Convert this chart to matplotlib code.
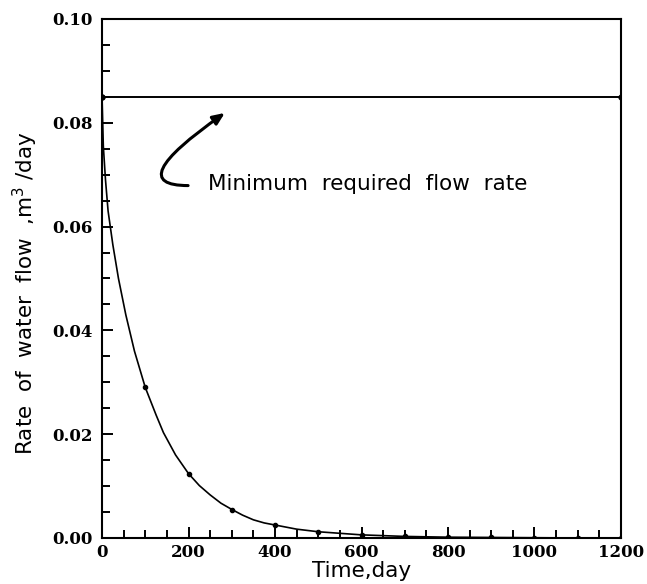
import numpy as np
import matplotlib.pyplot as plt
from matplotlib.ticker import MultipleLocator

# curve (time in days, flow in m3/day)
t_curve = [0, 3, 8, 14, 25, 38, 55, 75, 100, 125, 142, 170, 200, 225, 250, 275,
           300, 325, 350, 375, 400, 450, 500, 600, 700, 800, 900, 1000, 1100, 1200]
q_curve = [0.085, 0.0755, 0.069, 0.063, 0.0565, 0.050, 0.043, 0.036, 0.029, 0.0237,
           0.0203, 0.0160, 0.0124, 0.0101, 0.0083, 0.0067, 0.0055, 0.0044, 0.0035,
           0.0029, 0.0025, 0.0017, 0.0012, 0.0006, 0.0003, 0.00015, 0.0001, 0.00005,
           0.0, 0.0]

# plotted points
t_pts = [0, 100, 200, 300, 400, 500, 600, 700, 800, 900, 1000, 1100, 1200]
q_pts = [0.085, 0.029, 0.0124, 0.0054, 0.0025, 0.0012, 0.0006, 0.0003, 0.00015,
         0.0001, 0.00005, 0.0, 0.0]

# minimum required flow
t_min = [0, 1200]
q_min = [0.085, 0.085]

fig = plt.figure(figsize=(6.47, 5.84), dpi=100)
ax = fig.add_axes([0.1577, 0.0788, 0.8021, 0.8887])

ax.plot(t_curve, q_curve, color='black', lw=1.2)
ax.plot(t_pts, q_pts, 'o', color='black', ms=3)
ax.plot(t_min, q_min, '-o', color='black', lw=1.4, ms=3.5)

ax.set_xlim(0, 1200)
ax.set_ylim(0, 0.10)
ax.xaxis.set_major_locator(MultipleLocator(200))
ax.xaxis.set_minor_locator(MultipleLocator(50))
ax.yaxis.set_major_locator(MultipleLocator(0.02))
ax.yaxis.set_minor_locator(MultipleLocator(0.005))
ax.yaxis.set_major_formatter(plt.FormatStrFormatter('%.2f'))

ax.tick_params(which='both', direction='in', top=False, right=False, width=1.4)
ax.tick_params(which='major', length=8)
ax.tick_params(which='minor', length=6)
ax.tick_params(axis='x', pad=4)
ax.tick_params(axis='y', pad=7)
for lab in ax.get_xticklabels() + ax.get_yticklabels():
    lab.set_fontfamily('DejaVu Serif')
    lab.set_fontweight('bold')
    lab.set_fontsize(12)
for s in ax.spines.values():
    s.set_linewidth(1.5)

ax.set_xlabel('Time,day', fontsize=15.5, labelpad=0)
ax.set_ylabel('Rate  of  water  flow  ,m$^3$ /day', fontsize=15.5)
ax.yaxis.set_label_coords(-0.119, 0.471)

ax.text(245, 0.0683, 'Minimum  required  flow  rate', fontsize=15.5, va='center')
ax.annotate('', xy=(284, 0.0819), xytext=(199, 0.0679),
            arrowprops=dict(arrowstyle='-|>,head_length=0.7,head_width=0.3',
                            connectionstyle='angle3,angleA=180,angleB=35',
                            color='black', lw=2.2, shrinkA=0, shrinkB=0))

fig.savefig('out.png', dpi=100)
